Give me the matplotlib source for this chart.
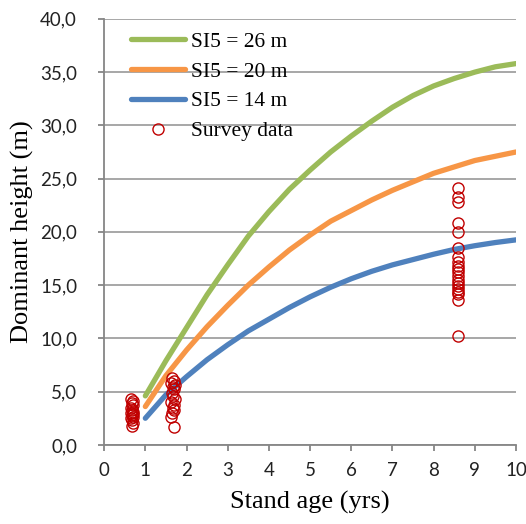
import matplotlib
matplotlib.use("Agg")
import matplotlib.pyplot as plt
from matplotlib.ticker import FuncFormatter

# Возраст насаждения (годы) для кривых
age = [1.0, 1.5, 2.0, 2.5, 3.0, 3.5, 4.0, 4.5, 5.0, 5.5,
       6.0, 6.5, 7.0, 7.5, 8.0, 8.5, 9.0, 9.5, 10.0]

# Кривые высоты (SI5 = 26, 20, 14 м)
si26 = [4.6, 7.9, 11.0, 14.1, 16.9, 19.6, 21.9, 24.0, 25.8, 27.5,
        29.0, 30.4, 31.7, 32.8, 33.7, 34.4, 35.0, 35.5, 35.8]
si20 = [3.6, 6.5, 8.9, 11.1, 13.1, 15.0, 16.7, 18.3, 19.7, 21.0,
        22.0, 23.0, 23.9, 24.7, 25.5, 26.1, 26.7, 27.1, 27.5]
si14 = [2.5, 4.7, 6.4, 8.0, 9.4, 10.7, 11.8, 12.9, 13.9, 14.8,
        15.6, 16.3, 16.9, 17.4, 17.9, 18.35, 18.7, 19.0, 19.25]

# Данные обследования
survey_age = ([0.65, 0.7, 0.67, 0.7, 0.65, 0.68, 0.7, 0.66, 0.69, 0.67,
               0.7, 0.65, 0.68, 0.7, 0.67]
              + [1.65, 1.7, 1.62, 1.72, 1.66, 1.7, 1.64, 1.68, 1.72, 1.63,
                 1.7, 1.66, 1.69, 1.65, 1.62, 1.7]
              + [8.6] * 20)
survey_h = ([4.3, 4.1, 3.9, 3.7, 3.5, 3.3, 3.1, 3.0, 2.9, 2.8,
             2.6, 2.5, 2.3, 2.1, 1.8]
            + [6.3, 6.0, 5.8, 5.6, 5.4, 5.2, 4.9, 4.6, 4.3, 4.0,
               3.7, 3.5, 3.3, 3.0, 2.6, 1.7]
            + [24.1, 23.3, 22.8, 20.8, 20.0, 18.5, 17.6, 17.2, 16.8, 16.5,
               16.2, 15.9, 15.5, 15.2, 14.9, 14.6, 14.4, 14.2, 13.6, 10.2])

fig = plt.figure(figsize=(5.26, 5.24), dpi=100)
ax = fig.add_axes([0.198, 0.151, 0.783, 0.813])

kw = dict(lw=3.8, solid_capstyle="round", solid_joinstyle="round")
ax.plot(age, si26, color="#9BBB59", label="SI5 = 26 m", **kw)
ax.plot(age, si20, color="#F79646", label="SI5 = 20 m", **kw)
ax.plot(age, si14, color="#4F81BD", label="SI5 = 14 m", **kw)
ax.plot(survey_age, survey_h, ls="none", marker="o", ms=8, mfc="none",
        mec="#C00000", mew=1.0, label="Survey data")

ax.set_xlim(0, 10)
ax.set_ylim(0, 40)
ax.set_xticks(range(0, 11))
ax.set_yticks(range(0, 41, 5))
ax.yaxis.set_major_formatter(FuncFormatter(lambda v, p: f"{v:.1f}".replace(".", ",")))

ax.grid(axis="y", color="#A0A0A0", lw=1.3)
ax.set_axisbelow(True)
for s in ["top", "right"]:
    ax.spines[s].set_visible(False)
for s in ["left", "bottom"]:
    ax.spines[s].set_color("#868686")
    ax.spines[s].set_linewidth(1.3)
ax.tick_params(direction="out", length=4.5, width=1.3, color="#868686",
               labelsize=13.5, labelcolor="#222222")
ax.tick_params(axis="x", pad=7.5)
ax.tick_params(axis="y", pad=15)
for lab in ax.get_xticklabels() + ax.get_yticklabels():
    lab.set_family("Lato")

ax.set_xlabel("Stand age (yrs)", family="Liberation Serif", fontsize=19, labelpad=9)
ax.set_ylabel("Dominant height (m)", family="Liberation Serif", fontsize=19, labelpad=4)

ax.legend(loc="upper left", bbox_to_anchor=(0.035, 1.0), frameon=False,
          prop={"family": "Liberation Serif", "size": 15.5},
          handlelength=2.5, handletextpad=0.25, labelspacing=0.45,
          borderaxespad=0.2)

fig.savefig("out.png", dpi=100)
